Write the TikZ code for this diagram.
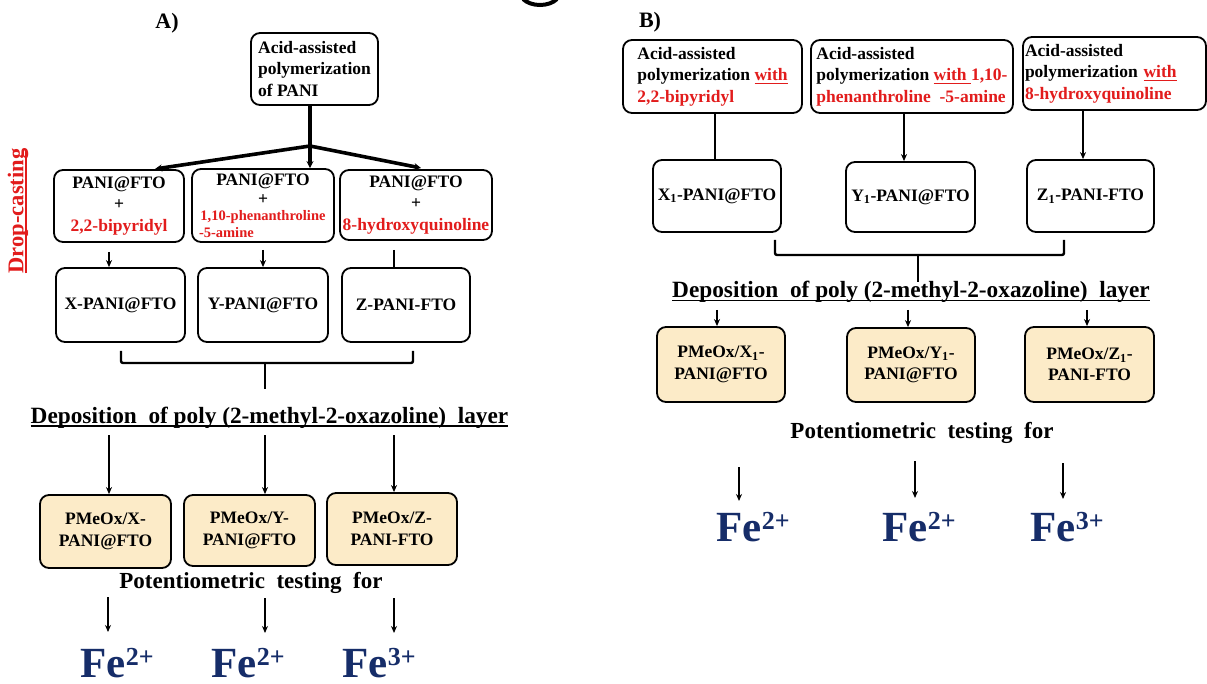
\documentclass[tikz,border=0pt]{standalone}
\usepackage{fontspec}
\setmainfont{Liberation Serif}
\usetikzlibrary{arrows.meta,calc}
\definecolor{myred}{RGB}{226,28,28}
\definecolor{navy}{RGB}{22,45,105}
\definecolor{beige}{RGB}{252,235,200}
\newcommand\myul[1]{\leavevmode\setbox0\hbox{#1}\rlap{\rule[-3.5pt]{\wd0}{1.4pt}}\box0\relax}
\newcommand\fsbox{\fontsize{17.5}{21.5}\selectfont}
\newcommand\fsttl{\fontsize{23.3}{26}\selectfont}
\newcommand\fsfe{\fontsize{43}{46}\selectfont}
\newcommand\fesup[1]{\raisebox{12pt}{\fontsize{26}{26}\selectfont #1}}
\begin{document}
\begin{tikzpicture}[x=1pt,y=-1pt,
  box/.style={draw, line width=1.8pt, rounded corners=9pt, inner sep=0pt, align=center, font=\bfseries\fsbox},
  pbox/.style={box, fill=beige},
  arr/.style={line width=2.4pt, -{Stealth[length=7pt,width=6pt]}},
  arrT/.style={line width=3.6pt, -{Stealth[length=7pt,width=7pt]}},
  lin/.style={line width=2.4pt},
  ttl/.style={font=\bfseries\fsttl, inner sep=0pt},
  pot/.style={font=\bfseries\fontsize{23}{26}\selectfont, inner sep=0pt},
  fe/.style={font=\bfseries\fsfe, text=navy, inner sep=0pt, anchor=base},
  lab/.style={font=\bfseries\fontsize{22}{24}\selectfont, inner sep=0pt}]
\useasboundingbox (0,0) rectangle (1207,684);
\fill[white] (0,0) rectangle (1207,684);

% artifact at the top
\draw[line width=4pt] (523,-1) .. controls (531,7) and (549,7) .. (557,-1);

% ================= Panel A =================
\node[lab] (labA) at (167,23) {A)};
\node[font=\bfseries\fontsize{22.5}{24}\selectfont, text=myred, rotate=90, inner sep=0pt] (drop) at (18,211) {\myul{Drop-casting}};

\node[box, align=left, minimum width=127, minimum height=72] (topA) at (314.5,69) {Acid-assisted\\polymerization\\of PANI};

\node[box, minimum width=130, minimum height=72] (b1) at (119,206) {PANI@FTO\\+\\\textcolor{myred}{2,2-bipyridyl}};
\node[box, minimum width=142, minimum height=73] (b2) at (263,205.5) {PANI@FTO\\[-3pt]+\\[-5pt]{\color{myred}\fontsize{14.5}{16}\selectfont 1,10-phenanthroline}\\[-5pt]\makebox[128pt][l]{\color{myred}\fontsize{14.5}{16}\selectfont -5-amine}};
\node[box, minimum width=152, minimum height=70] (b3) at (416,205) {PANI@FTO\\+\\\textcolor{myred}{8-hydroxyquinoline}};

\coordinate (sA) at (310,146);
\coordinate (tA1) at (155,169);
\coordinate (tA3) at (421,168);
\draw[line width=3.6pt] (topA.south -| sA) -- (sA);
\draw[arrT] (sA) -- (tA1);
\draw[arrT] (sA) -- (sA |- b2.north);
\draw[arrT] (sA) -- (tA3);

\node[box, minimum width=129, minimum height=74] (c1) at (120.5,305) {X-PANI@FTO};
\node[box, minimum width=130, minimum height=74] (c2) at (263,305) {Y-PANI@FTO};
\node[box, minimum width=128, minimum height=74] (c3) at (406,305) {Z-PANI-FTO};

\coordinate (xA1) at (109,252);
\coordinate (xA2) at (263,250);
\coordinate (xA3) at (394,250);
\draw[arr] (xA1) -- (xA1 |- c1.north);
\draw[arr] (xA2) -- (xA2 |- c2.north);
\draw[lin] (xA3) -- (xA3 |- c3.north);

\coordinate (kA1) at (121,351);
\coordinate (kA2) at (413,351);
\coordinate (kA3) at (265,363);
\coordinate (kA4) at (265,389);
\draw[lin, rounded corners=2pt] (kA1) -- (kA1 |- kA3) -- (kA2 |- kA3) -- (kA2);
\draw[lin] (kA3) -- (kA4);

\node[ttl, anchor=base] (depA) at (269.5,423) {\myul{Deposition\ \ of poly (2-methyl-2-oxazoline)\ \ layer}};

\node[pbox, minimum width=131, minimum height=73] (d1) at (105.5,531.5) {PMeOx/X-\\PANI@FTO};
\node[pbox, minimum width=131, minimum height=71] (d2) at (249.5,530.5) {PMeOx/Y-\\PANI@FTO};
\node[pbox, minimum width=130, minimum height=72] (d3) at (392,529) {PMeOx/Z-\\PANI-FTO};

\coordinate (pA1) at (109,435);
\coordinate (pA2) at (265,435);
\coordinate (pA3) at (394,435);
\draw[arr] (pA1) -- (pA1 |- d1.north);
\draw[arr] (pA2) -- (pA2 |- d2.north);
\draw[arr] (pA3) -- (pA3 |- d3.north);

\node[pot] (potA) at (251,583) {Potentiometric\ \ testing\ \ for};

\node[fe] (feA1) at (117,677) {Fe\fesup{2+}};
\node[fe] (feA2) at (248,677) {Fe\fesup{2+}};
\node[fe] (feA3) at (379,677) {Fe\fesup{3+}};

\coordinate (qA1) at (108,597);
\coordinate (qA2) at (265,598);
\coordinate (qA3) at (394,598);
\draw[arr] (qA1) -- (108,632);
\draw[arr] (qA2) -- (265,633);
\draw[arr] (qA3) -- (394,633);

% ================= Panel B =================
\node[lab] (labB) at (650,22) {B)};

\node[box, align=left, minimum width=179, minimum height=73] (e1) at (712.5,76.5) {Acid-assisted\\polymerization \textcolor{myred}{\myul{with}}\\\textcolor{myred}{2,2-bipyridyl}};
\node[box, align=left, minimum width=202, minimum height=73] (e2) at (912,76.5) {Acid-assisted\\polymerization \textcolor{myred}{\myul{with\ }1,10-}\\\textcolor{myred}{phenanthroline\ \ -5-amine}};
\node[box, align=left, text width=179, minimum width=183, minimum height=73] (e3) at (1114.5,73.5) {Acid-assisted\\polymerization \textcolor{myred}{\myul{with}}\\\textcolor{myred}{8-hydroxyquinoline}};

\node[box, minimum width=128, minimum height=72] (f1) at (717,196) {X\textsubscript{1}-PANI@FTO};
\node[box, minimum width=129, minimum height=70] (f2) at (910.5,197) {Y\textsubscript{1}-PANI@FTO};
\node[box, minimum width=127, minimum height=72] (f3) at (1090.5,196) {Z\textsubscript{1}-PANI-FTO};

\coordinate (xB1) at (715,0);
\coordinate (xB2) at (904,0);
\coordinate (xB3) at (1083,0);
\draw[lin] (e1.south -| xB1) -- (f1.north -| xB1);
\draw[arr] (e2.south -| xB2) -- (f2.north -| xB2);
\draw[arr] (e3.south -| xB3) -- (f3.north -| xB3);

\coordinate (kB1) at (775,240);
\coordinate (kB2) at (1064,240);
\coordinate (kB3) at (918,255);
\coordinate (kB4) at (918,282);
\draw[lin, rounded corners=2pt] (kB1) -- (kB1 |- kB3) -- (kB2 |- kB3) -- (kB2);
\draw[lin] (kB3) -- (kB4);

\node[ttl, anchor=base] (depB) at (911,298) {\myul{Deposition\ \ of poly (2-methyl-2-oxazoline)\ \ layer}};

\node[pbox, minimum width=128, minimum height=75] (g1) at (721,364.5) {PMeOx/X\textsubscript{1}-\\PANI@FTO};
\node[pbox, minimum width=128, minimum height=74] (g2) at (911,365) {PMeOx/Y\textsubscript{1}-\\PANI@FTO};
\node[pbox, minimum width=129, minimum height=75] (g3) at (1089.5,364.5) {PMeOx/Z\textsubscript{1}-\\PANI-FTO};

\coordinate (pB1) at (717,310);
\coordinate (pB2) at (908,310);
\coordinate (pB3) at (1087,310);
\draw[arr] (pB1) -- (pB1 |- g1.north);
\draw[arr] (pB2) -- (pB2 |- g2.north);
\draw[arr] (pB3) -- (pB3 |- g3.north);

\node[pot] (potB) at (922,433) {Potentiometric\ \ testing\ \ for};

\node[fe] (feB1) at (753,541) {Fe\fesup{2+}};
\node[fe] (feB2) at (919,541) {Fe\fesup{2+}};
\node[fe] (feB3) at (1067,541) {Fe\fesup{3+}};

\coordinate (qB1) at (739,467);
\coordinate (qB2) at (915,461);
\coordinate (qB3) at (1063,463);
\draw[arr] (qB1) -- (739,501);
\draw[arr] (qB2) -- (915,498);
\draw[arr] (qB3) -- (1063,499);
\end{tikzpicture}
\end{document}
